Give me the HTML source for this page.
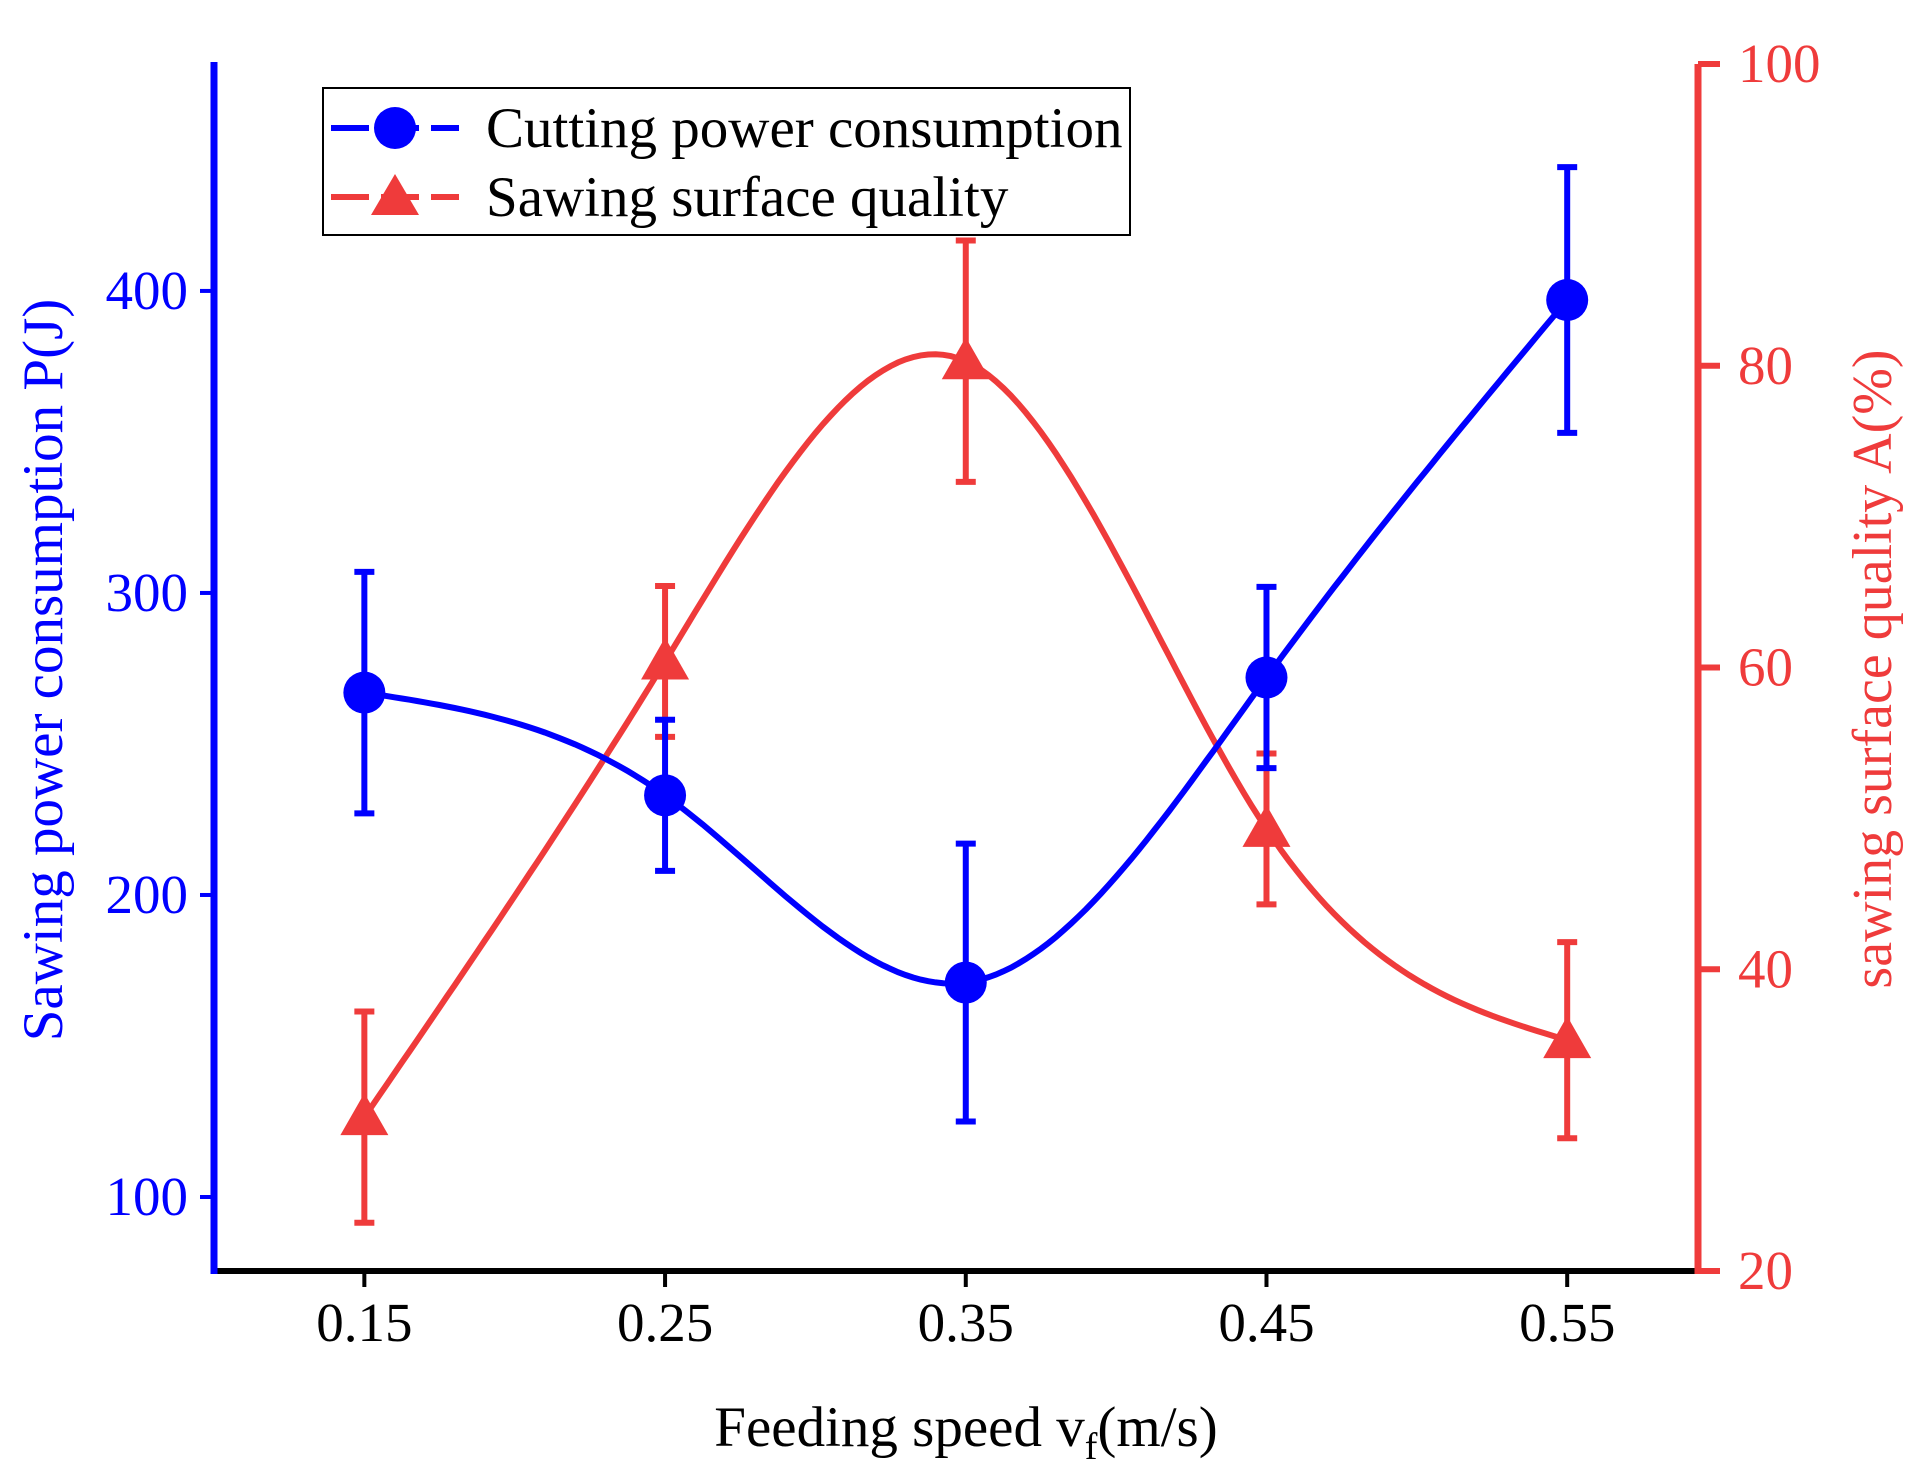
<!DOCTYPE html>
<html><head><meta charset="utf-8"><style>
html,body{margin:0;padding:0;background:#fff;}
svg{display:block;font-family:"Liberation Serif",serif;}
</style></head><body>
<svg id="chart" width="1931" height="1476" viewBox="0 0 1931 1476" xmlns="http://www.w3.org/2000/svg"></svg>
<script>
const categories = [0.15, 0.25, 0.35, 0.45, 0.55];
const powerValues = [267, 233, 171, 272, 397];
const powerErr = [40, 25, 46, 30, 44];
const qualityValues = [30.2, 60.4, 80.3, 49.3, 35.3];
const qualityErr = [7, 5, 8, 5, 6.5];
const leftTicks = [100, 200, 300, 400];
const rightTicks = [20, 40, 60, 80, 100];

const L = 214, R = 1698, T = 62, B = 1271;
const xMin = 0.1, xMax = 0.5935, yLMin = 75.5, yLMax = 475.8, yRMin = 20, yRMax = 100;
const BLUE = '#0000ff', RED = '#ef3b3b';
const xs = v => L + (v - xMin) / (xMax - xMin) * (R - L);
const yl = v => B - (v - yLMin) / (yLMax - yLMin) * (B - T);
const yr = v => B - (v - yRMin) / (yRMax - yRMin) * (B - 64);
const svg = document.getElementById('chart');
const NS = 'http://www.w3.org/2000/svg';
function mk(tag, attrs, parent) {
  const e = document.createElementNS(NS, tag);
  for (const k in attrs) e.setAttribute(k, attrs[k]);
  (parent || svg).appendChild(e);
  return e;
}
function spline(xv, yv) {
  const n = xv.length, h = [], a = [], l = [1], mu = [0], z = [0], c = new Array(n).fill(0), b = [], d = [];
  for (let i = 0; i < n - 1; i++) h.push(xv[i + 1] - xv[i]);
  for (let i = 1; i < n - 1; i++) a[i] = 3 / h[i] * (yv[i + 1] - yv[i]) - 3 / h[i - 1] * (yv[i] - yv[i - 1]);
  for (let i = 1; i < n - 1; i++) {
    l[i] = 2 * (xv[i + 1] - xv[i - 1]) - h[i - 1] * mu[i - 1];
    mu[i] = h[i] / l[i];
    z[i] = (a[i] - h[i - 1] * z[i - 1]) / l[i];
  }
  c[n - 1] = 0;
  for (let j = n - 2; j >= 0; j--) c[j] = (j === 0 ? 0 : z[j] - mu[j] * c[j + 1]);
  for (let j = 0; j < n - 1; j++) {
    b[j] = (yv[j + 1] - yv[j]) / h[j] - h[j] * (c[j + 1] + 2 * c[j]) / 3;
    d[j] = (c[j + 1] - c[j]) / (3 * h[j]);
  }
  const pts = [];
  for (let j = 0; j < n - 1; j++) {
    for (let s = 0; s <= 40; s++) {
      const t = h[j] * s / 40;
      pts.push([xv[j] + t, yv[j] + b[j] * t + c[j] * t * t + d[j] * t * t * t]);
    }
  }
  return pts;
}
let e;
e = mk('line', {x1: L, y1: B, x2: R, y2: B, stroke: '#000', 'stroke-width': 6});
 
e = mk('line', {x1: L, y1: T, x2: L, y2: B + 3, stroke: BLUE, 'stroke-width': 7});
 
e = mk('line', {x1: R, y1: 64, x2: R, y2: B + 3, stroke: RED, 'stroke-width': 7});
 
categories.forEach(c => {
  e = mk('line', {x1: xs(c), y1: B, x2: xs(c), y2: B + 16, stroke: '#000', 'stroke-width': 4});
   
  e = mk('text', {x: xs(c), y: B + 70, 'font-size': 55, 'text-anchor': 'middle', fill: '#000'});
  e.textContent = c.toFixed(2);
   
});
leftTicks.forEach(v => {
  e = mk('line', {x1: L - 14, y1: yl(v), x2: L, y2: yl(v), stroke: BLUE, 'stroke-width': 4});
   
  e = mk('text', {x: L - 26, y: yl(v) + 18, 'font-size': 55, 'text-anchor': 'end', fill: BLUE});
  e.textContent = v;
   
});
rightTicks.forEach(v => {
  e = mk('line', {x1: R, y1: yr(v), x2: R + 22, y2: yr(v), stroke: RED, 'stroke-width': 6});
   
  e = mk('text', {x: R + 40, y: yr(v) + 18, 'font-size': 55, 'text-anchor': 'start', fill: RED});
  e.textContent = v;
   
});
e = mk('text', {x: 966, y: 1446, 'font-size': 57, 'text-anchor': 'middle', fill: '#000'});
e.innerHTML = 'Feeding speed v<tspan font-size="38" dy="13">f</tspan><tspan dy="-13">(m/s)</tspan>';
 
e = mk('text', {x: 0, y: 0, 'font-size': 57, 'text-anchor': 'middle', fill: BLUE, transform: 'translate(62,670) rotate(-90)'});
e.textContent = 'Sawing power consumption P(J)';
 
e = mk('text', {x: 0, y: 0, 'font-size': 56, 'text-anchor': 'middle', fill: RED, transform: 'translate(1891,669) rotate(-90)'});
e.textContent = 'sawing surface quality A(%)';
 
function drawSeries(vals, errs, ys, color, name, marker) {
  const pts = spline(categories, vals);
  e = mk('path', {d: 'M' + pts.map(p => xs(p[0]).toFixed(1) + ',' + ys(p[1]).toFixed(1)).join('L'), fill: 'none', stroke: color, 'stroke-width': 6});
   
  categories.forEach((c, i) => {
    const x = xs(c), y1 = ys(vals[i] + errs[i]), y2 = ys(vals[i] - errs[i]);
    e = mk('path', {d: `M${x},${y1}L${x},${y2}M${x - 10},${y1}L${x + 10},${y1}M${x - 10},${y2}L${x + 10},${y2}`, stroke: color, 'stroke-width': 6, fill: 'none'});
     
  });
  categories.forEach((c, i) => {
    const x = xs(c), y = ys(vals[i]);
    if (marker === 'circle') e = mk('circle', {cx: x, cy: y, r: 21, fill: color});
    else e = mk('polygon', {points: `${x},${y - 24} ${x - 24},${y + 18} ${x + 24},${y + 18}`, fill: color});
     
  });
}
drawSeries(qualityValues, qualityErr, yr, RED, 'surface-quality', 'triangle');
drawSeries(powerValues, powerErr, yl, BLUE, 'power-consumption', 'circle');
const lg = mk('g', {});
 
mk('rect', {x: 323, y: 88, width: 807, height: 147, fill: '#fff', stroke: '#000', 'stroke-width': 2}, lg);
e = mk('g', {}, lg);
 
mk('line', {x1: 331, y1: 128, x2: 459, y2: 128, stroke: BLUE, 'stroke-width': 6, 'stroke-dasharray': '38,12'}, e);
mk('circle', {cx: 395, cy: 128, r: 21, fill: BLUE}, e);
let t = mk('text', {x: 486, y: 147, 'font-size': 57, fill: '#000'}, e); t.textContent = 'Cutting power consumption';
e = mk('g', {}, lg);
 
mk('line', {x1: 331, y1: 197, x2: 459, y2: 197, stroke: RED, 'stroke-width': 6, 'stroke-dasharray': '38,12'}, e);
mk('polygon', {points: '395,174 371,215 419,215', fill: RED}, e);
t = mk('text', {x: 486, y: 216, 'font-size': 57, fill: '#000'}, e); t.textContent = 'Sawing surface quality';
</script>
</body></html>
